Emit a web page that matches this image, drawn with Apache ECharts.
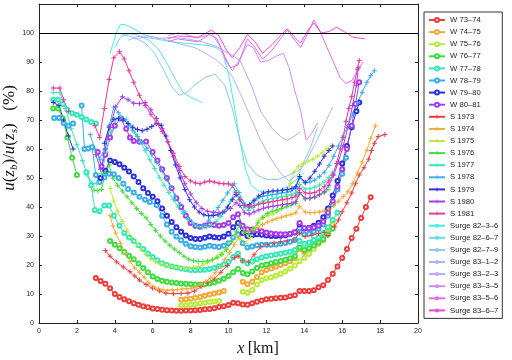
<!DOCTYPE html>
<html>
<head>
<meta charset="utf-8">
<script src="https://cdn.jsdelivr.net/npm/echarts@6/dist/echarts.min.js"></script>
<style>
  html, body { margin: 0; padding: 0; background: #fff; }
  #chart { width: 512px; height: 360px; }
</style>
</head>
<body>
<div id="chart"></div>
<script>
// winter profiles (circles)
const w7374 = [[3,15.5],[3.25,14.5],[3.5,13.5],[3.75,12],[4,10],[4.25,9],[4.5,8.2],[4.75,7.5],[5,6.8],[5.25,6.3],[5.5,5.8],[5.75,5.4],[6,5],[6.25,4.8],[6.5,4.6],[6.75,4.4],[7,4.3],[7.25,4.2],[7.5,4.2],[7.75,4.3],[8,4.3],[8.25,4.4],[8.5,4.5],[8.75,4.7],[9,4.8],[9.25,5.1],[9.5,5.5],[9.75,5.8],[10,6.2],[10.25,7],[10.5,6.8],[10.75,6.4],[11,6.3],[11.25,6.8],[11.5,7.3],[11.75,7.8],[12,8.2],[12.25,8.4],[12.5,8.5],[12.75,8.7],[13,8.8],[13.25,9.2],[13.5,9.6],[13.75,11],[14,11],[14.25,11],[14.5,11.3],[14.75,12.3],[15,13],[15.25,14.8],[15.5,17],[15.75,19.5],[16,22.4],[16.25,25.5],[16.5,29.3],[16.75,32.5],[17,36.2],[17.25,40],[17.5,43.4]];
const w7475a = [[7.5,8],[7.75,8.2],[8,8.4],[8.25,8.7],[8.5,9],[8.75,9.4],[9,9.8],[9.25,10.2],[9.5,10.5],[9.75,11]];
const w7475b = [[10.75,14.2],[11,13.4],[11.25,14.2],[11.5,15.8],[11.75,17.5],[12,18.3],[12.25,18.8],[12.5,19.4],[12.75,20],[13,20.6],[13.25,21.3],[13.5,22.3],[13.75,25.5],[14,24.5],[14.25,25.2],[14.5,26.3],[14.75,27.3],[15,28.5],[15.25,31],[15.5,34]];
const w7576a = [[7.5,6],[7.75,6.1],[8,6.3],[8.25,6.5],[8.5,6.8],[8.75,7],[9,7.2],[9.25,7.4],[9.5,7.6]];
const w7576b = [[10.75,10.8],[11,10.4],[11.25,11.4],[11.5,13.3],[11.75,14.8],[12,15.4],[12.25,15.8],[12.5,16.3],[12.75,17],[13,17.8],[13.25,18.8],[13.5,19.8],[13.75,21.3],[14,22.5],[14.25,23.8],[14.5,25.5],[14.75,27.5],[15,29.8],[15.25,32.5],[15.5,35]];
const w7677a = [[0.75,74],[1,74],[1.25,70.5],[1.5,64],[1.75,57],[2,51]];
const w7677b = [[3.75,28.3],[4,27],[4.25,25.8],[4.5,24.5],[4.75,23.2],[5,22],[5.25,20.5],[5.5,19],[5.75,17.5],[6,16],[6.25,15.2],[6.5,14.6],[6.75,14.2],[7,14],[7.25,13.8],[7.5,13.6],[7.75,13.5],[8,13.4],[8.25,13.3],[8.5,13.3],[8.75,13.4],[9,13.6],[9.25,14],[9.5,14.6],[9.75,15.3],[10,16.2],[10.25,17.5],[10.5,18.6],[10.75,17.2],[11,16.8],[11.25,17.8],[11.5,19],[11.75,19.8],[12,20.2],[12.25,20.6],[12.5,21],[12.75,21.4],[13,21.8],[13.25,22.3],[13.5,23],[13.75,26],[14,25.2],[14.25,25.8],[14.5,26.7],[14.75,27.8],[15,29],[15.25,30.5],[15.5,32.5]];
const w7778a = [[0.75,77],[1,77],[1.25,75.5],[1.5,73.5],[1.75,72.3],[2,71.8],[2.25,71],[2.5,70.2],[2.75,69.3],[3,68.8]];
const w7778b = [[2.5,52],[2.75,47.5],[2.95,39],[3.2,38.5],[3.45,40.5],[3.7,40.5],[3.95,37],[4.25,33.5],[4.5,31],[4.75,29.5],[5,28.3],[5.25,26.8],[5.5,25.5],[5.75,24],[6,22.8],[6.25,21.6],[6.5,20.6],[6.75,20],[7,19.5],[7.25,19.1],[7.5,18.8],[7.75,18.5],[8,18.3],[8.25,18.2],[8.5,18.3],[8.75,18.4],[9,18.6],[9.25,19],[9.5,19.6],[9.75,20.2],[10,21],[10.25,22.8],[10.5,24],[10.75,21.5],[11,20.5],[11.25,21.2],[11.5,22],[11.75,22.6],[12,23],[12.25,23.3],[12.5,23.6],[12.75,23.9],[13,24.2],[13.25,24.6],[13.5,25.2],[13.75,28.3],[14,27.3],[14.25,27.8],[14.5,28.6],[14.75,29.6],[15,31],[15.25,33],[15.5,35.5],[15.75,38]];
const w7879a = [[0.8,70.7],[1.05,70.7],[1.3,69],[1.55,68],[1.8,68.8]];
const w7879b = [[2.25,75],[2.4,60],[2.6,60.2],[2.8,60.6],[3,51],[3.2,48.6],[3.45,50.2],[3.7,51.5],[3.95,51.3],[4.2,50],[4.45,48],[4.7,46.2],[5,45],[5.3,43.5],[5.6,42.5],[5.85,41.7],[6.2,40.7],[6.5,37],[6.75,34],[7,31.5],[7.25,29.8],[7.5,28.5],[7.75,27.3],[8,26.5],[8.25,26.2],[8.5,26],[8.75,26.3],[9,26.6],[9.25,26.4],[9.5,26.2],[9.75,26.6],[10,27.5],[10.25,29.5],[10.5,30.5],[10.75,27.5],[11,26],[11.25,26.4],[11.5,26.8],[11.75,27],[12,27],[12.25,27],[12.5,27.1],[12.75,27.3],[13,27.6],[13.25,28],[13.5,28.6],[13.75,31.5],[14,30.5],[14.25,30.8],[14.5,31.5],[14.75,32.5],[15,34],[15.25,37],[15.5,41],[15.75,46],[16,51.5],[16.2,57]];
const w7980 = [[3.25,50],[3.5,52.5],[3.75,56],[4,55.5],[4.25,54.7],[4.5,53.5],[4.75,52.2],[5,50.5],[5.25,48.6],[5.5,46.5],[5.75,44.8],[6,43.5],[6.25,42],[6.5,39.5],[6.75,37],[7,34.8],[7.25,33],[7.5,31.5],[7.75,30.2],[8,29.3],[8.25,29],[8.5,29],[8.75,29.4],[9,29.8],[9.25,29.6],[9.5,29.4],[9.75,29.8],[10,30.8],[10.25,33],[10.5,34.5],[10.75,31],[11,30],[11.25,30.3],[11.5,30.6],[11.75,30.4],[12,30.2],[12.25,30],[12.5,30],[12.75,30.1],[13,30.3],[13.25,30.7],[13.5,31.2],[13.75,34],[14,32.6],[14.25,32.8],[14.5,33.5],[14.75,34.6],[15,36.5],[15.25,39.5],[15.5,44],[15.75,49],[16,55],[16.25,61],[16.5,67.5],[16.75,73],[16.9,76]];
const w8081 = [[3.1,59],[3.3,54],[3.5,58],[3.75,64],[4,68],[4.3,70.5],[4.6,67],[4.8,64],[5,62.8],[5.3,62.5],[5.65,62.6],[6,59],[6.25,56],[6.5,53],[6.75,50],[7,46.5],[7.25,43],[7.5,40],[7.75,37],[8,34.5],[8.25,33.5],[8.5,33.2],[8.75,33.6],[9,34],[9.25,33.8],[9.5,33.5],[9.75,33.8],[10,34.5],[10.25,36.5],[10.5,37.5],[10.75,33.5],[11,32.3],[11.25,32.2],[11.5,32],[11.75,31.6],[12,31.2],[12.25,30.9],[12.5,30.7],[12.75,30.6],[13,30.6],[13.25,30.8],[13.5,31.3],[13.75,34.5],[14,32.8],[14.25,32.7],[14.5,32.9],[14.75,33.5],[15,35],[15.25,38],[15.5,42],[15.75,47],[16,53],[16.25,60],[16.5,68],[16.7,75.5],[16.9,83]];

// summer profiles (plus markers)
const s1973 = [[3.5,25],[3.75,23],[4.1,21],[4.45,19.3],[4.8,17.7],[5.05,16.2],[5.3,14.8],[5.65,13.3],[6,12],[6.35,11],[6.7,10.3],[7.1,10.1],[7.5,10.2],[7.85,10.3],[8.2,11],[8.55,12.5],[8.9,13.8],[9.25,15.2],[9.6,17.5],[9.95,19.8],[10.3,22.5],[10.5,23],[10.75,21.5],[11.05,21],[11.35,23.5],[11.7,26.3],[12.05,27],[12.4,27.6],[12.75,28],[13.1,28.3],[13.45,28.6],[13.75,31],[14.05,29.8],[14.4,30.3],[14.75,30.9],[15.05,31.2],[15.25,30.2],[15.6,33.2],[15.8,35.5],[16,38.4],[16.25,41.5],[16.5,44.8],[16.7,48],[16.9,51],[17.15,53.5],[17.4,56.5],[17.55,59.5],[17.7,62],[17.9,64.3],[18.25,65]];
const s1974 = [[3.75,37],[3.9,33.5],[4.05,31],[4.3,27.5],[4.55,24],[4.8,21.3],[5.05,19],[5.3,17.5],[5.55,15.8],[5.8,13.8],[6.05,12.5],[6.3,11.8],[6.55,11.4],[6.8,11.3],[7.05,11.4],[7.3,11.5],[7.55,11.7],[7.8,11.8],[8.05,12],[8.3,12.5],[8.55,13.3],[8.8,14.3],[9.05,15.5],[9.3,17.3],[9.55,19.5],[9.8,21.8],[10.05,24.3],[10.3,27],[10.55,29.3],[10.8,31],[11.05,31.7],[11.3,32.3],[11.55,33],[11.8,34],[12.05,34.8],[12.3,35.4],[12.55,36],[12.8,36.5],[13.05,37],[13.3,37.4],[13.55,38],[13.75,40.3],[14.05,38.3],[14.3,38],[14.55,38.1],[14.8,38.3],[15.05,38.6],[15.3,39.3],[15.55,40.5],[15.8,42],[16.05,43.6],[16.3,45.3],[16.55,48],[16.8,51.7],[17.05,55.5],[17.3,59.6],[17.5,63.5],[17.75,68]];
const s1975 = [[3.75,46.5],[3.95,42],[4.15,38.5],[4.4,35],[4.65,32],[4.9,29.5],[5.15,27.3],[5.4,25.3],[5.65,23.6],[5.9,22],[6.15,21],[6.4,20.3],[6.65,19.8],[6.9,19.5],[7.15,19.3],[7.4,19.1],[7.65,19],[7.9,19],[8.15,19.2],[8.4,19.5],[8.65,20],[8.9,20.8],[9.15,21.8],[9.4,23],[9.65,24.3],[9.9,25.8],[10.15,27.8],[10.4,30],[10.6,29],[10.9,27.5],[11.15,29.5],[11.4,32.5],[11.6,35.5],[11.85,36.3],[12.1,37],[12.35,37.6],[12.6,38.4],[12.85,40],[13.05,43],[13.25,48],[13.45,52],[13.7,54],[13.95,55],[14.2,55.8],[14.45,56.5],[14.7,57.5],[14.95,58.7],[15.2,60],[15.4,61]];
const s1976 = [[2.9,45.8],[3.1,45.6],[3.3,46],[3.5,52],[3.7,54.5],[3.9,50],[4.15,47.5],[4.4,45.5],[4.65,43.5],[4.9,41.5],[5.15,39.5],[5.4,37.8],[5.65,36.3],[5.9,34],[6.15,32],[6.4,30],[6.65,28.3],[6.9,26.8],[7.15,25.5],[7.4,24.3],[7.65,23],[7.9,22],[8.15,21.5],[8.4,21.2],[8.65,21.2],[8.9,21.4],[9.15,21.8],[9.4,22.5],[9.65,23.6],[9.9,25.3],[10.15,28],[10.4,31.5],[10.6,34],[10.8,31.5],[11.05,30.5],[11.3,32.5],[11.55,34.5],[11.8,36.5],[12.05,37.8],[12.3,38.5],[12.55,39],[12.8,39.5],[13.05,40],[13.3,40.6],[13.55,41.3],[13.75,44.5],[14.05,42.8],[14.3,43],[14.55,43.5],[14.8,44.3],[15.05,45],[15.25,46]];
const s1977 = [[0.75,79.5],[1.1,79.5],[1.4,74],[1.7,67],[2,61.5],[2.3,56],[2.55,51],[2.8,48.3],[3.05,48],[3.3,51.5],[3.55,59],[3.8,66],[4.05,70],[4.3,71],[4.6,70.3],[4.85,68],[5.1,65.3],[5.35,62.5],[5.6,59.5],[5.85,56.3],[6.1,53.3],[6.35,50.3],[6.6,47.5],[6.85,45],[7.1,42.5],[7.35,40],[7.6,37.8],[7.85,35.8],[8.1,34.3],[8.35,33.3],[8.6,33],[8.85,33.2],[9.1,33.7],[9.35,35],[9.6,36.8],[9.85,39],[10.1,42],[10.35,45.5],[10.55,43.5],[10.8,40],[11.05,38.8],[11.3,39.8],[11.55,41],[11.8,42],[12.05,42.6],[12.3,42.9],[12.55,43.2],[12.8,43.5],[13.05,43.8],[13.3,44.2],[13.55,44.8],[13.75,47.8],[14.05,46.2],[14.3,46.3],[14.55,46.8],[14.8,47.6],[15.05,48.6],[15.3,50.2],[15.5,52]];
const s1978 = [[2.7,65],[2.95,60],[3.2,56.5],[3.45,60],[3.7,68],[3.95,74.5],[4.2,72.5],[4.45,70.5],[4.7,68.3],[4.95,66.3],[5.2,64.3],[5.45,62.3],[5.7,60.3],[5.95,58],[6.2,55.5],[6.45,52.8],[6.7,49.8],[6.95,46.8],[7.2,43.8],[7.45,41],[7.7,38.3],[7.95,35.8],[8.2,34],[8.45,33],[8.7,33.6],[8.95,35.3],[9.2,37.5],[9.45,39.8],[9.7,42.3],[9.95,44.8],[10.3,48],[10.55,45],[10.8,41.5],[11.05,40],[11.3,41.8],[11.55,43],[11.8,43.6],[12.05,44],[12.3,44.2],[12.55,44.5],[12.8,44.8],[13.05,45],[13.3,45.5],[13.55,46.3],[13.75,50],[14.05,48.3],[14.3,48.6],[14.55,49.3],[14.8,50.5],[15.05,52],[15.3,54.3],[15.55,57.5],[15.8,61],[16.05,64.5],[16.3,68],[16.55,72],[16.8,76],[17.05,79.5],[17.3,83],[17.5,85.3],[17.7,87]];
const s1979a = [[0.75,76],[1.05,75],[1.3,70],[1.55,64.5],[1.8,60]];
const s1979b = [[3.45,62],[3.7,67.5],[3.95,70.3],[4.2,70.6],[4.45,70],[4.7,68.8],[4.95,67.5],[5.2,66.7],[5.45,66.3],[5.7,66.8],[5.95,67.8],[6.2,68.8],[6.45,68.2],[6.7,64.5],[6.95,59.5],[7.2,54.5],[7.45,50],[7.7,46],[7.95,42.5],[8.2,40],[8.45,38.3],[8.7,37.3],[8.95,37],[9.2,37.1],[9.45,37.3],[9.7,38.2],[9.95,40],[10.2,42.5],[10.4,44.3],[10.6,42.5],[10.85,40.5],[11.1,40.8],[11.35,42.3],[11.6,43.8],[11.85,44.8],[12.1,45.3],[12.35,45.5],[12.6,45.6],[12.85,45.8],[13.1,46],[13.35,46.4],[13.55,47],[13.75,50.5],[14.05,48.5],[14.3,50],[14.55,52.3],[14.8,54.8],[15.05,57.5],[15.3,59.5],[15.5,61]];
const s1980 = [[3,58],[3.25,53],[3.5,60],[3.75,67.5],[4.05,74.5],[4.4,78],[4.7,77],[5,75.8],[5.3,75.6],[5.6,76],[5.9,73.5],[6.2,70.5],[6.5,67],[6.8,62.5],[7.1,57.5],[7.4,52.5],[7.7,48],[8,44.5],[8.3,41.5],[8.6,39.5],[8.9,38.5],[9.2,38.2],[9.5,38],[9.8,38.4],[10.1,39.5],[10.4,41.5],[10.6,40.5],[10.85,38],[11.1,37.5],[11.35,38.3],[11.6,39],[11.85,39.6],[12.1,40],[12.35,40.3],[12.6,40.5],[12.85,40.8],[13.1,41],[13.35,41.3],[13.55,41.8],[13.75,45],[14.05,43],[14.3,43],[14.55,43.4],[14.8,44.2],[15.05,45.3],[15.3,47.5],[15.55,51],[15.8,55.5],[16.05,61],[16.3,67.5],[16.55,75],[16.75,82],[16.85,88]];
const s1981a = [[0.75,81],[1.1,81],[1.3,77],[1.55,73]];
const s1981b = [[2.95,68],[3.2,64],[3.45,74],[3.7,84],[3.95,91.5],[4.25,93.5],[4.5,91],[4.75,87],[5,83],[5.3,78.5],[5.6,75],[5.9,72],[6.2,69],[6.5,66],[6.8,62.5],[7.1,58.5],[7.4,54],[7.7,50.5],[8,49],[8.25,48.3],[8.5,48],[8.75,48.6],[9,49],[9.25,48.6],[9.5,48.2],[9.75,48],[10,48],[10.2,47.5],[10.4,45],[10.6,42.5],[10.85,40.5],[11.1,40],[11.35,40.5],[11.6,41],[11.85,41.3],[12.1,41.6],[12.35,41.9],[12.6,42.2],[12.85,42.5],[13.1,42.8],[13.35,43.2],[13.55,43.8],[13.75,46.5],[14.05,44.8],[14.3,44.7],[14.55,45],[14.8,45.8],[15.05,47],[15.3,49],[15.5,51],[15.7,55],[15.9,60],[16.05,64],[16.2,69.5],[16.35,74],[16.5,78],[16.65,83],[16.8,87.5],[16.9,90.5]];

// surge profiles (plain lines)
const g8236 = [[3.75,93],[4.1,100.5],[4.3,103],[4.6,102.8],[5,101.5],[5.5,99.5],[6,98.3],[6.5,97.5],[7,97],[7.5,96.6],[8,96.3],[8.5,96],[9,95.6],[9.4,94.8],[9.7,93],[10,86],[10.3,75],[10.6,63],[10.9,53],[11.2,47.5],[11.6,45.5],[12.1,45],[12.6,45.5],[13.1,47],[13.6,49.5],[14,52]];
const g8267 = [[4,95],[4.3,98.5],[4.7,99.8],[5.2,99.3],[5.8,97.5],[6.3,94.5],[6.8,89],[7.2,84],[7.6,79.5],[8,77.8],[8.3,77],[8.6,76]];
const g8279 = [[4.4,99.5],[5,98.5],[5.6,96.5],[6.1,93],[6.6,87],[7,81.5],[7.4,78.5],[7.8,79.5],[8.3,82.5],[8.8,84.8],[9.3,85.8],[9.8,82],[10.2,74],[10.6,63],[11,55],[11.5,51],[12,49.5],[12.6,49.5],[13.2,51],[13.8,53],[14.3,60],[14.7,67.6]];
const g8312 = [[4.7,97.5],[5.2,98.8],[5.8,99],[6.4,98.2],[7,97],[7.6,96],[8.2,95],[8.8,93],[9.4,90.5],[9.9,87.5],[10.2,85],[10.7,78],[11.2,70.5],[11.7,63],[12.2,57],[12.7,52],[13.2,49],[13.7,51.5],[14.2,57],[14.7,63.5],[15.1,69],[15.5,74.5]];
const g8323 = [[5,98],[5.6,98.5],[6.2,98],[7,98.5],[7.8,98],[8.6,97],[9.3,95.5],[10,93],[10.6,90.7],[11.2,82],[11.7,73],[12.3,67],[12.8,64],[13.1,63],[13.5,64.5],[13.8,66]];
const g8335 = [[6.8,99],[7.3,100],[7.8,99.5],[8.3,98.3],[8.8,99],[9.1,100],[9.5,96],[9.9,90],[10.2,87],[10.6,91],[11,96],[11.3,95],[11.7,90],[12.1,90.5],[12.5,92],[12.9,93],[13.2,88],[13.5,80],[13.8,73.4],[14.1,63],[14.4,65.5],[14.7,69]];
const g8356 = [[6.8,97],[7.3,98],[7.8,97.5],[8.4,97],[9,99.5],[9.4,98],[9.8,92],[10.1,88],[10.5,89],[11,98],[11.4,95],[11.8,91],[12.3,94],[12.8,98.5],[13.1,101],[13.5,97.5],[13.8,95],[14.2,100],[14.5,104.5],[14.8,101],[15.2,95],[15.6,89],[15.9,84.5],[16.2,82.6],[16.5,83.5],[16.8,87],[17.1,90]];
const g8367 = [[6.8,98],[7.3,99],[7.8,98.8],[8.4,98.5],[9.1,101],[9.5,99],[9.9,94],[10.2,91.5],[10.6,95],[11,99.5],[11.4,97],[11.8,93],[12.3,96],[12.8,99.5],[13.1,101.5],[13.5,98.5],[13.8,96.5],[14.2,101],[14.5,103.5],[14.9,100],[15.3,100.5],[15.7,102],[16.1,100.5],[16.6,98.5],[17.2,98]];

const refLevel = 100;

const plusMark = 'path://M2,0h1v2h2v1h-2v2h-1v-2h-2v-1h2z';

// name, colour, marker, segments
const profiles = [
  ['W 73\u201374', '#ee3b3b', 'o', [w7374]],
  ['W 74\u201375', '#f2aa35', 'o', [w7475a, w7475b]],
  ['W 75\u201376', '#b8ec3a', 'o', [w7576a, w7576b]],
  ['W 76\u201377', '#3fdc3f', 'o', [w7677a, w7677b]],
  ['W 77\u201378', '#35e8b8', 'o', [w7778a, w7778b]],
  ['W 78\u201379', '#3aaee8', 'o', [w7879a, w7879b]],
  ['W 79\u201380', '#2f2fd8', 'o', [w7980]],
  ['W 80\u201381', '#a63cec', 'o', [w8081]],
  ['S 1973', '#ee3b3b', '+', [s1973]],
  ['S 1974', '#f2aa35', '+', [s1974]],
  ['S 1975', '#b8ec3a', '+', [s1975]],
  ['S 1976', '#3fdc3f', '+', [s1976]],
  ['S 1977', '#35e8b8', '+', [s1977]],
  ['S 1978', '#3aaee8', '+', [s1978]],
  ['S 1979', '#2f2fd8', '+', [s1979a, s1979b]],
  ['S 1980', '#a63cec', '+', [s1980]],
  ['S 1981', '#e8389a', '+', [s1981a, s1981b]],
  ['Surge 82\u20133\u20136', '#45ecee', '', [g8236]],
  ['Surge 82\u20136\u20137', '#62dcee', '', [g8267]],
  ['Surge 82\u20137\u20139', '#8ccaec', '', [g8279]],
  ['Surge 83\u20131\u20132', '#aab6f2', '', [g8312]],
  ['Surge 83\u20132\u20133', '#bda6f2', '', [g8323]],
  ['Surge 83\u20133\u20135', '#cf8cf0', '', [g8335]],
  ['Surge 83\u20135\u20136', '#de6ce8', '', [g8356]],
  ['Surge 83\u20136\u20137', '#ea4cd8', '', [g8367]]
];

const series = [];
profiles.forEach(([name, color, mark, segs]) => {
  segs.forEach(seg => {
    series.push({
      name: name,
      type: 'line',
      data: seg,
      color: color,
      symbol: mark === 'o' ? 'emptyCircle' : (mark === '+' ? plusMark : 'none'),
      symbolSize: mark === 'o' ? 4 : 5,
      showSymbol: mark !== '',
      lineStyle: { width: 1, color: color },
      itemStyle: { color: color, borderWidth: 1 },
      z: 3
    });
  });
});

series[0].markLine = {
  silent: true,
  symbol: 'none',
  label: { show: false },
  lineStyle: { color: '#000', width: 1, type: 'solid' },
  data: [{ yAxis: refLevel }]
};

const axisCommon = {
  type: 'value',
  axisLine: { show: true, onZero: false, lineStyle: { color: '#222', width: 1 } },
  axisTick: { show: true, inside: true, length: 3, lineStyle: { color: '#222' } },
  splitLine: { show: false }
};

const chart = echarts.init(document.getElementById('chart'));
chart.setOption({
  animation: false,
  backgroundColor: '#fff',
  textStyle: { fontFamily: 'Liberation Sans, Arial, sans-serif' },
  grid: { left: 39, top: 4, width: 379, height: 319 },
  legend: {
    orient: 'vertical',
    left: 424,
    top: 12,
    padding: [4, 4, 4, 4],
    itemGap: 4.1,
    itemWidth: 16,
    itemHeight: 5,
    selectedMode: false,
    borderColor: '#333',
    borderWidth: 1,
    backgroundColor: '#fff',
    textStyle: { fontSize: 7.7, color: '#222' },
    data: profiles.map(p => p[0])
  },
  xAxis: [
    Object.assign({}, axisCommon, {
      min: 0, max: 20, interval: 2, position: 'bottom',
      axisLabel: { fontSize: 7, color: '#222', margin: 5 }
    }),
    Object.assign({}, axisCommon, {
      min: 0, max: 20, interval: 2, position: 'top',
      axisLabel: { show: false }
    })
  ],
  yAxis: [
    Object.assign({}, axisCommon, {
      min: 0, max: 110, interval: 10, position: 'left',
      axisLabel: { fontSize: 7, color: '#222', margin: 5, formatter: v => v > 100 ? '' : v }
    }),
    Object.assign({}, axisCommon, {
      min: 0, max: 110, interval: 10, position: 'right',
      axisLabel: { show: false }
    })
  ],
  graphic: [
    {
      type: 'text',
      x: 258, y: 349,
      style: {
        text: '{i|x} {r|[km]}',
        align: 'center', verticalAlign: 'middle',
        rich: {
          i: { fontFamily: 'Liberation Serif', fontStyle: 'italic', fontSize: 16, fill: '#111' },
          r: { fontFamily: 'Liberation Serif', fontSize: 16, fill: '#111' }
        }
      }
    },
    {
      type: 'text',
      x: 10, y: 138,
      rotation: Math.PI / 2,
      style: {
        text: '{i|u}{r|(}{i|z}{s|b}{r|)/}{i|u}{r|(}{i|z}{s|s}{r|)   (%)}',
        align: 'center', verticalAlign: 'middle',
        rich: {
          i: { fontFamily: 'Liberation Serif', fontStyle: 'italic', fontSize: 17, fill: '#111', lineHeight: 20 },
          r: { fontFamily: 'Liberation Serif', fontSize: 17, fill: '#111', lineHeight: 20 },
          s: { fontFamily: 'Liberation Serif', fontStyle: 'italic', fontSize: 11, fill: '#111', lineHeight: 20, verticalAlign: 'bottom', padding: [7, 0, 0, 0] }
        }
      }
    }
  ],
  series: series
});
</script>
</body>
</html>
